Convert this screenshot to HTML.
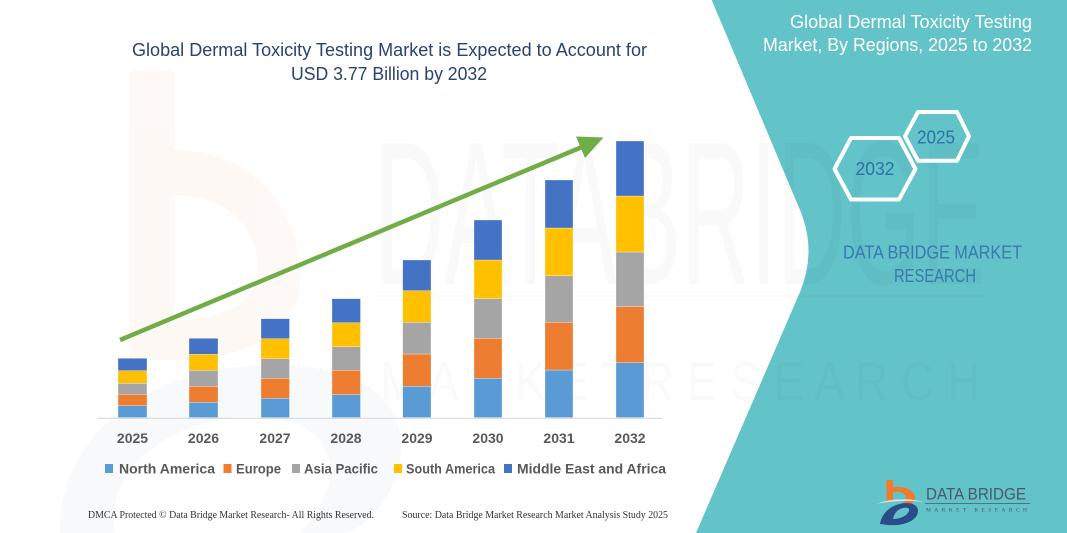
<!DOCTYPE html>
<html>
<head>
<meta charset="utf-8">
<style>
html,body{margin:0;padding:0;background:#fff;}
svg{display:block;}
</style>
</head>
<body>
<svg width="1067" height="533" viewBox="0 0 1067 533" xmlns="http://www.w3.org/2000/svg">
  <rect x="0" y="0" width="1067" height="533" fill="#ffffff"/>

  <!-- faint background logo watermark -->
  <g opacity="0.045">
    <rect x="130" y="70" width="44" height="290" fill="#f07c2b"/>
    <path d="M174,150 C260,150 305,220 300,285 C296,330 250,360 174,360 L174,320 C230,320 258,300 258,270 C258,225 225,195 174,195 Z" fill="#f07c2b"/>
  </g>
  <g opacity="0.03">
    <path d="M60,533 C60,430 150,370 260,365 C360,362 410,400 400,460 C392,505 360,533 340,533 L300,533 C330,500 340,470 320,440 C290,405 200,410 150,450 C120,475 110,505 115,533 Z" fill="#2b4c8a"/>
  </g>

  <!-- teal panel -->
  <path d="M711.7,0 L800,210 Q817,251 800,292 L696,533 L1067,533 L1067,0 Z" fill="#62c3c9"/>

  <!-- watermark text -->
  <text x="375" y="284" font-family="Liberation Sans, sans-serif" font-size="205" textLength="610" lengthAdjust="spacingAndGlyphs" fill="#000" fill-opacity="0.022">DATABRIDGE</text>
  <rect x="375" y="295" width="610" height="2" fill="#000" fill-opacity="0.02"/>
  <text x="380" y="400" font-family="Liberation Sans, sans-serif" font-size="55" textLength="600" lengthAdjust="spacingAndGlyphs" fill="#000" fill-opacity="0.018">M A R K E T   R E S E A R C H</text>

  <!-- chart title -->
  <text x="132" y="56" font-family="Liberation Sans, sans-serif" font-size="18" textLength="515" lengthAdjust="spacingAndGlyphs" fill="#2a4272">Global Dermal Toxicity Testing Market is Expected to Account for</text>
  <text x="291" y="80" font-family="Liberation Sans, sans-serif" font-size="18" textLength="196" lengthAdjust="spacingAndGlyphs" fill="#2a4272">USD 3.77 Billion by 2032</text>

  <!-- axis -->
  <line x1="97" y1="418.3" x2="662" y2="418.3" stroke="#d9d9d9" stroke-width="1.2"/>

  <!-- bars -->
  <g stroke="#ffffff" stroke-width="0.5" stroke-opacity="0.6">
    <rect x="118" y="405.7" width="29" height="11.9" fill="#5b9bd5"/>
    <rect x="118" y="394.3" width="29" height="11.4" fill="#ed7d31"/>
    <rect x="118" y="383.3" width="29" height="11" fill="#a5a5a5"/>
    <rect x="118" y="370.7" width="29" height="12.6" fill="#ffc000"/>
    <rect x="118" y="358.3" width="29" height="12.4" fill="#4472c4"/>
    <rect x="189" y="402.3" width="29" height="15.3" fill="#5b9bd5"/>
    <rect x="189" y="386.3" width="29" height="16" fill="#ed7d31"/>
    <rect x="189" y="370.3" width="29" height="16" fill="#a5a5a5"/>
    <rect x="189" y="354.3" width="29" height="16" fill="#ffc000"/>
    <rect x="189" y="338.3" width="29" height="16" fill="#4472c4"/>
    <rect x="261" y="398.3" width="28.5" height="19.3" fill="#5b9bd5"/>
    <rect x="261" y="378.3" width="28.5" height="20" fill="#ed7d31"/>
    <rect x="261" y="358.7" width="28.5" height="19.6" fill="#a5a5a5"/>
    <rect x="261" y="338.7" width="28.5" height="20" fill="#ffc000"/>
    <rect x="261" y="318.7" width="28.5" height="20" fill="#4472c4"/>
    <rect x="332" y="394.7" width="28.5" height="22.9" fill="#5b9bd5"/>
    <rect x="332" y="370.3" width="28.5" height="24.4" fill="#ed7d31"/>
    <rect x="332" y="346.7" width="28.5" height="23.6" fill="#a5a5a5"/>
    <rect x="332" y="322.7" width="28.5" height="24" fill="#ffc000"/>
    <rect x="332" y="298.7" width="28.5" height="24" fill="#4472c4"/>
    <rect x="402.7" y="386.3" width="28.3" height="31.3" fill="#5b9bd5"/>
    <rect x="402.7" y="354" width="28.3" height="32.3" fill="#ed7d31"/>
    <rect x="402.7" y="322.3" width="28.3" height="31.7" fill="#a5a5a5"/>
    <rect x="402.7" y="290.7" width="28.3" height="31.6" fill="#ffc000"/>
    <rect x="402.7" y="260" width="28.3" height="30.7" fill="#4472c4"/>
    <rect x="474" y="378.3" width="28" height="39.3" fill="#5b9bd5"/>
    <rect x="474" y="338.3" width="28" height="40" fill="#ed7d31"/>
    <rect x="474" y="298.7" width="28" height="39.6" fill="#a5a5a5"/>
    <rect x="474" y="260" width="28" height="38.7" fill="#ffc000"/>
    <rect x="474" y="220" width="28" height="40" fill="#4472c4"/>
    <rect x="545" y="370" width="28" height="47.6" fill="#5b9bd5"/>
    <rect x="545" y="322.3" width="28" height="47.7" fill="#ed7d31"/>
    <rect x="545" y="275.7" width="28" height="46.6" fill="#a5a5a5"/>
    <rect x="545" y="228" width="28" height="47.7" fill="#ffc000"/>
    <rect x="545" y="180" width="28" height="48" fill="#4472c4"/>
    <rect x="616" y="362.7" width="28" height="54.9" fill="#5b9bd5"/>
    <rect x="616" y="306.7" width="28" height="56" fill="#ed7d31"/>
    <rect x="616" y="252" width="28" height="54.7" fill="#a5a5a5"/>
    <rect x="616" y="196" width="28" height="56" fill="#ffc000"/>
    <rect x="616" y="141" width="28" height="55" fill="#4472c4"/>
  </g>

  <!-- arrow -->
  <line x1="120" y1="340" x2="582" y2="147" stroke="#70ad47" stroke-width="4.5"/>
  <polygon points="603.5,137.5 576,136.5 585,158" fill="#70ad47"/>

  <!-- year labels -->
  <g font-family="Liberation Sans, sans-serif" font-size="14" font-weight="bold" fill="#595959" text-anchor="middle">
    <text x="132.5" y="443">2025</text>
    <text x="203.5" y="443">2026</text>
    <text x="275" y="443">2027</text>
    <text x="346" y="443">2028</text>
    <text x="417" y="443">2029</text>
    <text x="488" y="443">2030</text>
    <text x="559" y="443">2031</text>
    <text x="630" y="443">2032</text>
  </g>

  <!-- legend -->
  <rect x="105" y="464" width="8" height="9" fill="#5b9bd5"/>
  <rect x="223.5" y="464" width="8" height="9" fill="#ed7d31"/>
  <rect x="292" y="464" width="8" height="9" fill="#a5a5a5"/>
  <rect x="394" y="464" width="8" height="9" fill="#ffc000"/>
  <rect x="504" y="464" width="8" height="9" fill="#4472c4"/>
  <g font-family="Liberation Sans, sans-serif" font-size="14" font-weight="bold" fill="#595959">
    <text x="119" y="473.5" textLength="96" lengthAdjust="spacingAndGlyphs">North America</text>
    <text x="236" y="473.5" textLength="45" lengthAdjust="spacingAndGlyphs">Europe</text>
    <text x="304" y="473.5" textLength="74" lengthAdjust="spacingAndGlyphs">Asia Pacific</text>
    <text x="406" y="473.5" textLength="89" lengthAdjust="spacingAndGlyphs">South America</text>
    <text x="517" y="473.5" textLength="149" lengthAdjust="spacingAndGlyphs">Middle East and Africa</text>
  </g>

  <!-- footer -->
  <g font-family="Liberation Serif, serif" font-size="10" fill="#333333">
    <text x="88" y="518" textLength="286" lengthAdjust="spacingAndGlyphs">DMCA Protected © Data Bridge Market Research-  All Rights Reserved.</text>
    <text x="402" y="518" textLength="266" lengthAdjust="spacingAndGlyphs">Source: Data Bridge Market Research  Market Analysis Study 2025</text>
  </g>

  <!-- right panel title -->
  <g font-family="Liberation Sans, sans-serif" font-size="18.5" fill="#ffffff">
    <text x="790" y="28" textLength="242" lengthAdjust="spacingAndGlyphs">Global Dermal Toxicity Testing</text>
    <text x="763" y="51" textLength="269" lengthAdjust="spacingAndGlyphs">Market, By Regions, 2025 to 2032</text>
  </g>

  <!-- hexagons -->
  <polygon points="905,136.3 918,112 957,112 969,136.3 957,160.7 918,160.7" fill="none" stroke="#ffffff" stroke-width="4" stroke-linejoin="round"/>
  <polygon points="834.5,169 851,138 899,138 915.5,169 899,199.5 851,199.5" fill="none" stroke="#ffffff" stroke-width="4" stroke-linejoin="round"/>
  <g font-family="Liberation Sans, sans-serif" font-size="18" fill="#2f70aa" text-anchor="middle">
    <text x="936" y="143.5" textLength="38" lengthAdjust="spacingAndGlyphs">2025</text>
    <text x="875" y="175" textLength="39" lengthAdjust="spacingAndGlyphs">2032</text>
  </g>

  <!-- DATA BRIDGE MARKET RESEARCH -->
  <g font-family="Liberation Sans, sans-serif" font-size="18" fill="#3a78b0">
    <text x="843" y="258.5" textLength="179" lengthAdjust="spacingAndGlyphs">DATA BRIDGE MARKET</text>
    <text x="894" y="282" textLength="82" lengthAdjust="spacingAndGlyphs">RESEARCH</text>
  </g>

  <!-- bottom logo -->
  <g>
    <rect x="886.5" y="480" width="6.5" height="22" fill="#f07c2b"/>
    <path d="M893,487 C908,486 916,492 915,499 C914,503 910,505 906,505 L898,505 C904,503 907,500 906,497 C905,493 900,491 893,492 Z" fill="#f07c2b"/>
    <path d="M876,504 C890,498 912,498 924,502 C910,500 890,501 876,504 Z" fill="#d9dfe6"/>
    <path d="M880,524 C882,512 892,504 906,503 C916,503 920,508 917,515 C913,523 900,526 888,525 Z M893,519 C900,519 907,516 909,511 C910,508 907,507 903,508 C898,509 894,513 893,519 Z" fill="#2b4c8a"/>
    <text x="926" y="499.5" font-family="Liberation Sans, sans-serif" font-size="16.5" fill="#4a5868" textLength="100" lengthAdjust="spacingAndGlyphs">DATA BRIDGE</text>
    <line x1="925" y1="503.5" x2="1030" y2="503.5" stroke="#4a5868" stroke-width="0.7"/>
    <text x="926" y="511.5" font-family="Liberation Serif, serif" font-size="5.5" fill="#4a5868" textLength="101" lengthAdjust="spacing">MARKET   RESEARCH</text>
  </g>
</svg>
</body>
</html>
